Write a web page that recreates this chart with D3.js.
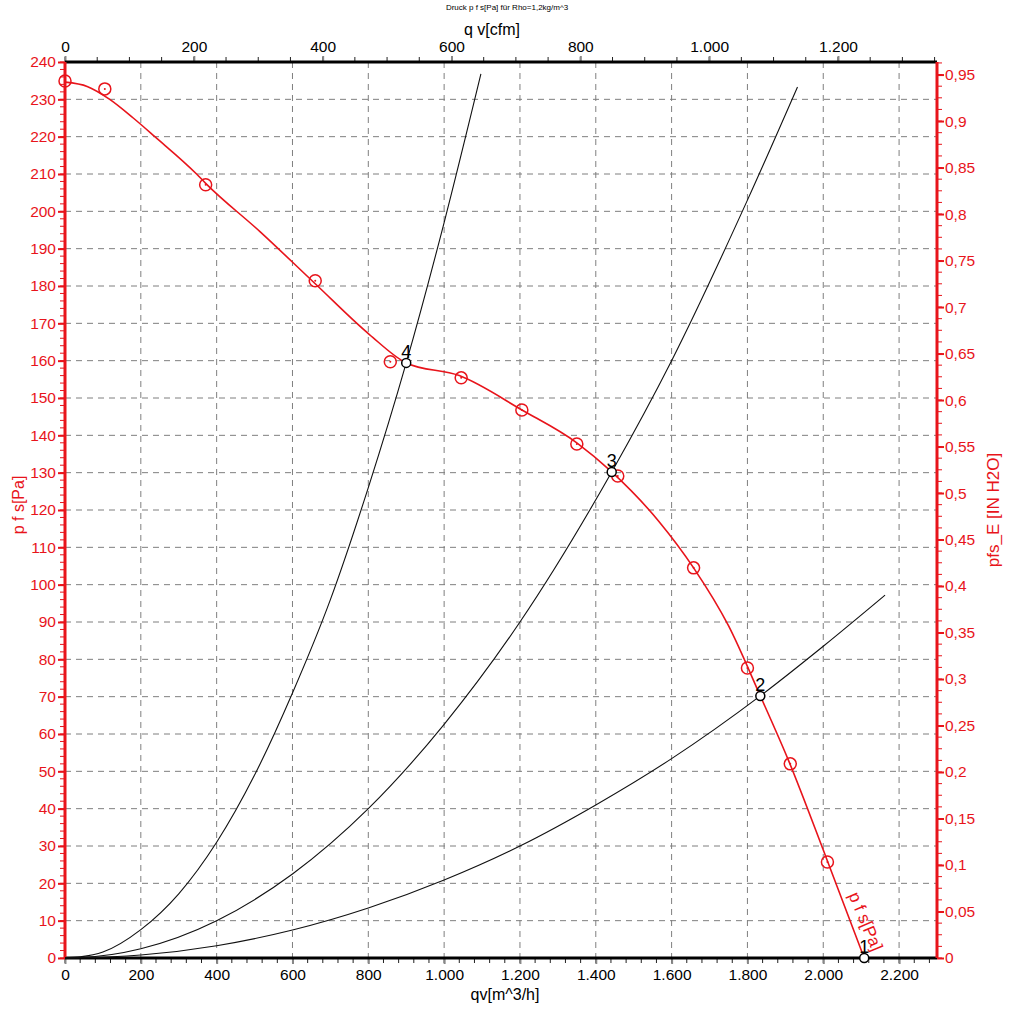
<!DOCTYPE html>
<html>
<head>
<meta charset="utf-8">
<script src="https://cdn.jsdelivr.net/npm/d3@7"></script>
<style>
  body { margin: 0; background: #fff; }
  svg { font-family: "Liberation Sans", Arial, sans-serif; }
</style>
</head>
<body>
<div id="chart"></div>
<script>
// Fan curve p fs [Pa] over qv [m^3/h]
const fanQ = [0, 60, 118, 180, 237, 347, 371, 515, 660, 803, 900, 1040, 1205, 1350, 1442, 1566, 1658, 1750, 1834, 1908, 2008, 2108];
const fanP = [234.6, 233.4, 230, 225, 220, 210, 207.5, 194.5, 180.6, 167, 159.4, 156, 146.8, 138, 130.2, 117, 104.5, 89, 70.2, 53, 26.8, 0];

// measured points (red circle markers)
const measQ = [0, 105, 371, 660, 858, 1045, 1205, 1350, 1458, 1658, 1800, 1913, 2011];
const measP = [234.9, 232.8, 207.1, 181.4, 159.7, 155.4, 146.8, 137.7, 129.1, 104.5, 77.7, 52, 25.7];

// system curves (black)
const sys4Q = [0, 40, 100, 200, 300, 400, 500, 600, 700, 800, 900, 1000, 1097];
const sys4P = [0, 0.3, 1.6, 7.6, 17.2, 31, 49, 71, 96, 126, 159.4, 197, 236.8];
const sys3Q = [0, 40, 200, 400, 600, 800, 1000, 1200, 1442, 1600, 1800, 1932];
const sys3P = [0, 0.1, 2.5, 10, 22.5, 40, 62.6, 90, 130.2, 160, 203, 233.3];
const sys2Q = [0, 40, 200, 400, 600, 800, 1000, 1200, 1400, 1600, 1834, 2000, 2163];
const sys2P = [0, 0.05, 0.8, 3.3, 7.5, 13.4, 20.9, 30, 41, 53.4, 70.2, 83.5, 97.2];

// operating points
const opLabels = ["1", "2", "3", "4"];
const opQ = [2108, 1834, 1442, 900];
const opP = [0, 70.2, 130.2, 159.4];

// axes ticks
const qTicks = [0, 200, 400, 600, 800, 1000, 1200, 1400, 1600, 1800, 2000, 2200];
const cfmTicks = [0, 200, 400, 600, 800, 1000, 1200];
const paTicks = d3.range(0, 241, 10);
const inTicks = d3.range(0, 20).map(i => i * 0.05);

const W = 1013, H = 1011;
const pLeft = 65, pRight = 937, pTop = 62, pBottom = 958;
const M3H_PER_CFM = 1.699;
const PA_PER_IN = 249.089;

const svg = d3.select("#chart").append("svg")
  .attr("width", W).attr("height", H);

const x = d3.scaleLinear().domain([0, 2300]).range([pLeft, pRight]);
const y = d3.scaleLinear().domain([0, 240]).range([pBottom, pTop]);
const xCfm = d3.scaleLinear().domain([0, 2300 / M3H_PER_CFM]).range([pLeft, pRight]);
const yIn = d3.scaleLinear().domain([0, 240 / PA_PER_IN]).range([pBottom, pTop]);

const red = "#e8141b";
const gridColor = "#7f7f7f";
const fmtDot = d => d3.format(",")(d).replace(/,/g, ".");
const fmtComma = d => (+d.toFixed(3)).toString().replace(".", ",");

// grid
svg.append("g").selectAll("line")
  .data(qTicks.slice(1))
  .join("line")
  .attr("x1", d => x(d)).attr("x2", d => x(d))
  .attr("y1", pTop).attr("y2", pBottom)
  .attr("stroke", gridColor).attr("stroke-dasharray", "6,5");
svg.append("g").selectAll("line")
  .data(paTicks.slice(1, -1))
  .join("line")
  .attr("y1", d => y(d)).attr("y2", d => y(d))
  .attr("x1", pLeft).attr("x2", pRight)
  .attr("stroke", gridColor).attr("stroke-dasharray", "6,5");

// minor ticks
const minorQ = d3.range(0, 2301, 40);
const minorCfm = d3.range(0, 2300 / M3H_PER_CFM, 50);
const minorPa = d3.range(0, 241, 2);
const minorIn = d3.range(0, 240 / PA_PER_IN, 0.0125);

svg.append("g").selectAll("line").data(minorQ).join("line")
  .attr("x1", d => x(d)).attr("x2", d => x(d))
  .attr("y1", pBottom).attr("y2", pBottom + 5).attr("stroke", "#222");
svg.append("g").selectAll("line").data(minorCfm).join("line")
  .attr("x1", d => xCfm(d)).attr("x2", d => xCfm(d))
  .attr("y1", pTop).attr("y2", pTop - 5).attr("stroke", "#222");
svg.append("g").selectAll("line").data(minorPa).join("line")
  .attr("y1", d => y(d)).attr("y2", d => y(d))
  .attr("x1", pLeft).attr("x2", pLeft - 5).attr("stroke", red);
svg.append("g").selectAll("line").data(minorIn).join("line")
  .attr("y1", d => yIn(d)).attr("y2", d => yIn(d))
  .attr("x1", pRight).attr("x2", pRight + 5).attr("stroke", red);

// axes
const axisBottom = svg.append("g")
  .attr("transform", `translate(0,${pBottom})`)
  .call(d3.axisBottom(x).tickValues(qTicks).tickFormat(fmtDot).tickSize(6).tickPadding(5));
const axisTop = svg.append("g")
  .attr("transform", `translate(0,${pTop})`)
  .call(d3.axisTop(xCfm).tickValues(cfmTicks).tickFormat(fmtDot).tickSize(6).tickPadding(4));
const axisLeft = svg.append("g")
  .attr("transform", `translate(${pLeft},0)`)
  .call(d3.axisLeft(y).tickValues(paTicks).tickSize(7).tickPadding(2));
const axisRight = svg.append("g")
  .attr("transform", `translate(${pRight},0)`)
  .call(d3.axisRight(yIn).tickValues(inTicks).tickFormat(fmtComma).tickSize(7).tickPadding(1));

[axisBottom, axisTop].forEach(g => {
  g.select(".domain").remove();
  g.selectAll(".tick line").attr("stroke", "#888").attr("stroke-width", 2);
  g.selectAll(".tick text").attr("fill", "#000").style("font-size", "15.5px");
});
[axisLeft, axisRight].forEach(g => {
  g.select(".domain").remove();
  g.selectAll(".tick line").attr("stroke", red).attr("stroke-width", 2);
  g.selectAll(".tick text").attr("fill", red).style("font-size", "15.5px");
});

// axis frame lines
svg.append("line").attr("x1", pLeft).attr("x2", pRight).attr("y1", pTop).attr("y2", pTop)
  .attr("stroke", "#000").attr("stroke-width", 3);
svg.append("line").attr("x1", pLeft).attr("x2", pRight).attr("y1", pBottom).attr("y2", pBottom)
  .attr("stroke", "#000").attr("stroke-width", 3);
svg.append("line").attr("x1", pLeft).attr("x2", pLeft).attr("y1", pTop).attr("y2", pBottom)
  .attr("stroke", red).attr("stroke-width", 3);
svg.append("line").attr("x1", pRight).attr("x2", pRight).attr("y1", pTop).attr("y2", pBottom)
  .attr("stroke", red).attr("stroke-width", 3);

// system curves
const lineGen = d3.line().x(d => x(d[0])).y(d => y(d[1])).curve(d3.curveMonotoneX);
[[sys4Q, sys4P], [sys3Q, sys3P], [sys2Q, sys2P]].forEach(([q, p]) => {
  svg.append("path")
    .datum(q.map((v, i) => [v, p[i]]))
    .attr("fill", "none").attr("stroke", "#111").attr("stroke-width", 1.1)
    .attr("d", lineGen);
});

// fan curve
svg.append("path")
  .datum(fanQ.map((v, i) => [v, fanP[i]]))
  .attr("fill", "none").attr("stroke", red).attr("stroke-width", 1.6)
  .attr("d", d3.line().x(d => x(d[0])).y(d => y(d[1])).curve(d3.curveMonotoneX));

// measured markers
const meas = svg.append("g").selectAll("g")
  .data(measQ.map((v, i) => [v, measP[i]]))
  .join("g")
  .attr("transform", d => `translate(${x(d[0])},${y(d[1])})`);
meas.append("circle").attr("r", 6).attr("fill", "none").attr("stroke", red).attr("stroke-width", 1.5);
meas.append("circle").attr("r", 1).attr("fill", red);

// operating points
const ops = svg.append("g").selectAll("g")
  .data(opQ.map((v, i) => ({ q: v, p: opP[i], label: opLabels[i] })))
  .join("g")
  .attr("transform", d => `translate(${x(d.q)},${y(d.p)})`);
ops.append("circle").attr("r", 4.5).attr("fill", "#fff").attr("stroke", "#000").attr("stroke-width", 1.5);
ops.append("text").attr("x", 0).attr("y", -5).attr("text-anchor", "middle")
  .style("font-size", "18px").attr("fill", "#000").text(d => d.label);

// curve label
const lx = x(fanQ[fanQ.length - 1]) - 16, ly = y(0) - 63;
svg.append("text")
  .attr("transform", `translate(${lx},${ly}) rotate(67)`)
  .attr("fill", red).style("font-size", "17px")
  .text("p f s[Pa]");

// titles
svg.append("text").attr("x", 507).attr("y", 10).attr("text-anchor", "middle")
  .style("font-size", "8px").text("Druck p f s[Pa] für Rho=1,2kg/m^3");
svg.append("text").attr("x", 492).attr("y", 35).attr("text-anchor", "middle")
  .style("font-size", "16px").text("q v[cfm]");
svg.append("text").attr("x", 505).attr("y", 1000).attr("text-anchor", "middle")
  .style("font-size", "16px").text("qv[m^3/h]");
svg.append("text").attr("transform", "translate(24,505) rotate(-90)")
  .attr("text-anchor", "middle").attr("fill", red).style("font-size", "16px")
  .text("p f s[Pa]");
svg.append("text").attr("transform", "translate(999,510) rotate(-90)")
  .attr("text-anchor", "middle").attr("fill", red).style("font-size", "17px")
  .text("pfs_E [IN H2O]");
</script>
</body>
</html>
